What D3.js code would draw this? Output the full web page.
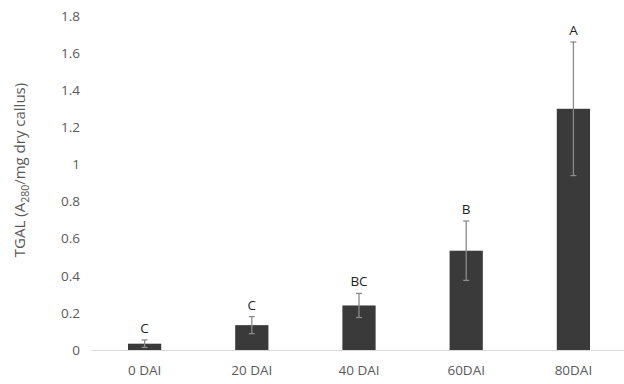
<!DOCTYPE html>
<html>
<head>
<meta charset="utf-8">
<script src="https://cdn.jsdelivr.net/npm/d3@7"></script>
<style>
  body { margin: 0; background: #fff; }
  text { font-family: "Open Sans", sans-serif; }
</style>
</head>
<body>
<div id="chart"></div>
<script>
// chart data
var stages = ["0 DAI", "20 DAI", "40 DAI", "60DAI", "80DAI"];
var tgal = [0.034, 0.134, 0.24, 0.535, 1.30];
var errs = [0.02, 0.046, 0.065, 0.16, 0.36];
var groups = ["C", "C", "BC", "B", "A"];
var yTicks = [0, 0.2, 0.4, 0.6, 0.8, 1, 1.2, 1.4, 1.6, 1.8];

var width = 624;
var height = 384;

var svg = d3.select("#chart")
  .append("svg")
  .attr("width", width)
  .attr("height", height);

// scales
var x = d3.scaleBand()
  .domain(stages)
  .range([91, 627])
  .paddingInner(0.69)
  .paddingOuter(0.345);

var y = d3.scaleLinear()
  .domain([0, 1.8])
  .range([350, 16]);

// y axis: labels only
var yAxis = svg.append("g")
  .attr("transform", "translate(86,0)")
  .call(d3.axisLeft(y).tickValues(yTicks).tickFormat(d3.format("~g")).tickSize(0).tickPadding(6));
yAxis.select(".domain").remove();
yAxis.selectAll("text")
  .attr("fill", "#595959")
  .style("font-size", "13.5px");

// x axis
var xAxis = svg.append("g")
  .attr("transform", "translate(0,350)")
  .call(d3.axisBottom(x).tickSize(0).tickPadding(15).tickSizeOuter(0));
xAxis.select(".domain").attr("stroke", "#d9d9d9").attr("stroke-width", 1.2);
xAxis.selectAll("text")
  .attr("fill", "#595959")
  .style("font-size", "13.5px");

// bars
svg.selectAll(".bar")
  .data(tgal)
  .enter()
  .append("rect")
  .attr("class", "bar")
  .attr("x", function(d, i) { return x(stages[i]); })
  .attr("y", function(d) { return y(d); })
  .attr("width", x.bandwidth())
  .attr("height", function(d) { return y(0) - y(d); })
  .attr("fill", "#3a3a3a");

// error bars
var eb = svg.append("g").attr("stroke", "#8a8a8a").attr("stroke-width", 1.3);
tgal.forEach(function(d, i) {
  var cx = x(stages[i]) + x.bandwidth() / 2;
  eb.append("line")
    .attr("x1", cx).attr("x2", cx)
    .attr("y1", y(d - errs[i])).attr("y2", y(d + errs[i]));
  eb.append("line")
    .attr("x1", cx - 3).attr("x2", cx + 3)
    .attr("y1", y(d + errs[i])).attr("y2", y(d + errs[i]));
  eb.append("line")
    .attr("x1", cx - 3).attr("x2", cx + 3)
    .attr("y1", y(d - errs[i])).attr("y2", y(d - errs[i]));
});

// significance letters
svg.selectAll(".grp")
  .data(groups)
  .enter()
  .append("text")
  .attr("class", "grp")
  .attr("x", function(d, i) { return x(stages[i]) + x.bandwidth() / 2; })
  .attr("y", function(d, i) { return y(tgal[i] + errs[i]) - 7; })
  .attr("text-anchor", "middle")
  .attr("fill", "#1f1f1f")
  .style("font-size", "13.5px")
  .text(function(d) { return d; });

// y axis title
var title = svg.append("text")
  .attr("transform", "translate(25,170) rotate(-90)")
  .attr("text-anchor", "middle")
  .attr("fill", "#595959")
  .style("font-size", "15px");
title.append("tspan").text("TGAL (A");
title.append("tspan").attr("dy", 4).style("font-size", "10.5px").text("280");
title.append("tspan").attr("dy", -4).text("/mg dry callus)");
</script>
</body>
</html>
